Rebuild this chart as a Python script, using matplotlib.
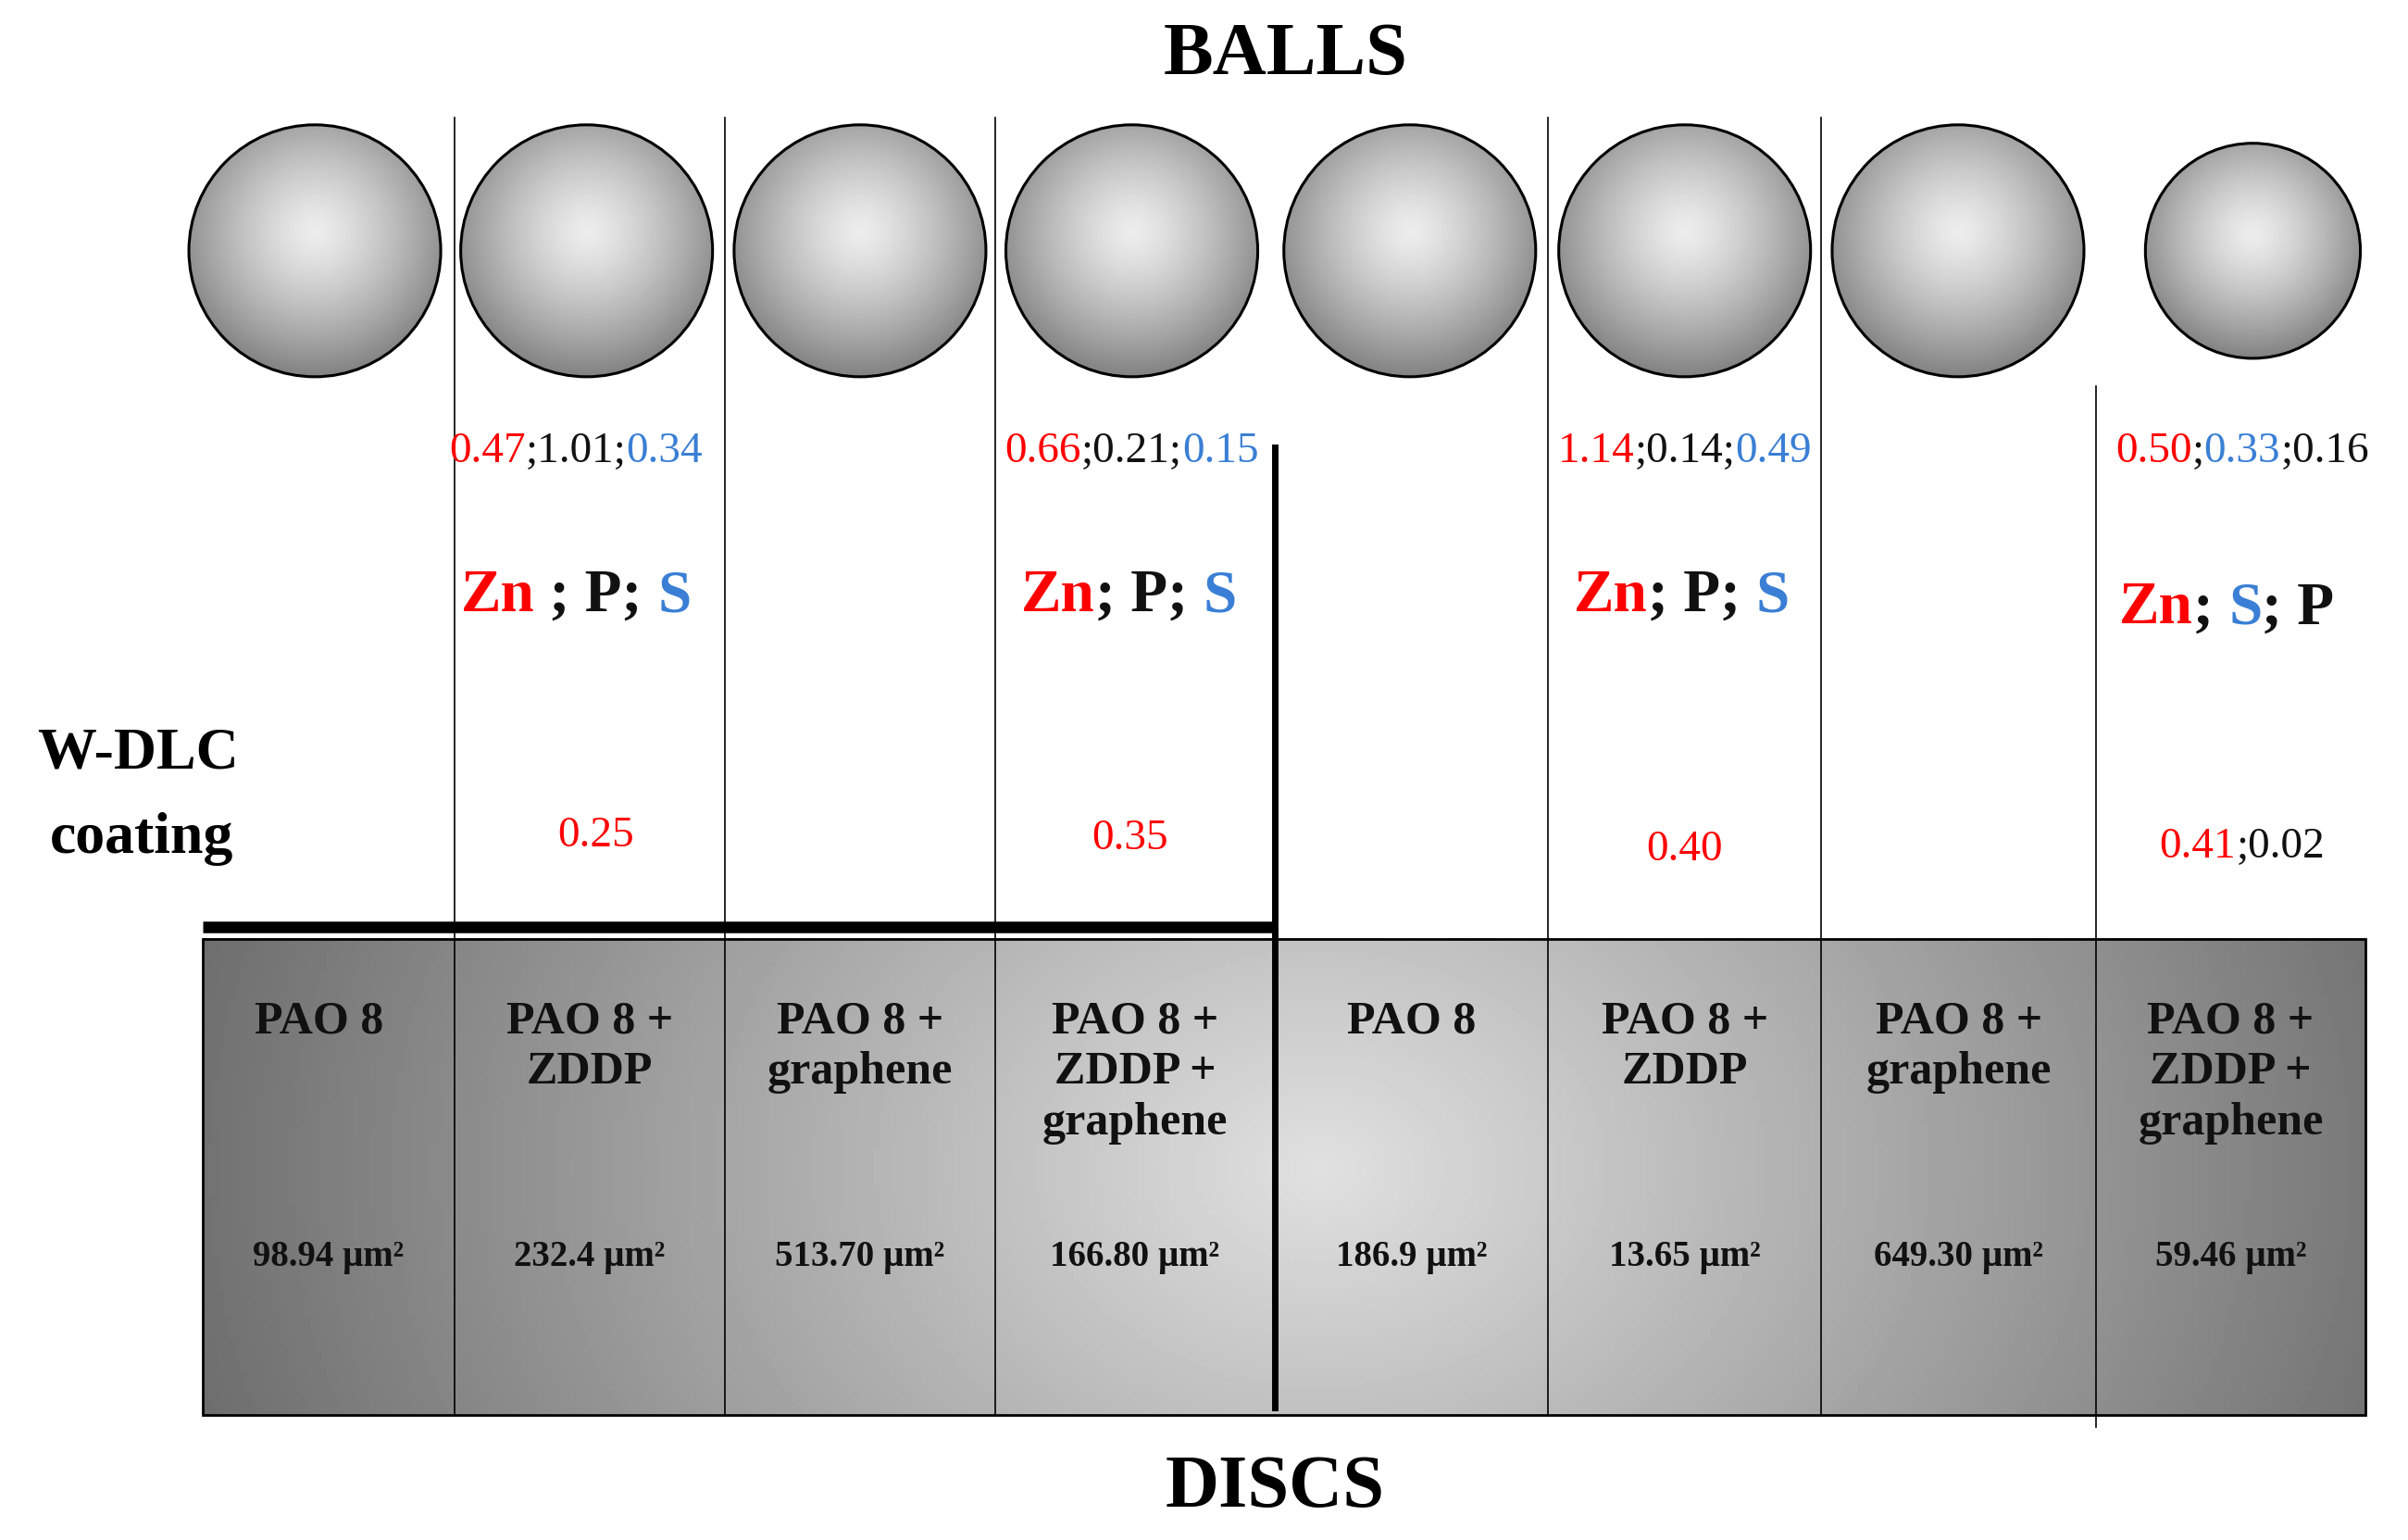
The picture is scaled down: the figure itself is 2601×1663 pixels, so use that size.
import numpy as np
import matplotlib
matplotlib.use("Agg")
import matplotlib.pyplot as plt
from matplotlib.patches import Circle, Rectangle

plt.rcParams['font.family'] = ['Liberation Serif', 'DejaVu Serif']

RED, BLK, BLU = '#ff0000', '#111111', '#3a7fd5'
lubricants = ["PAO 8", "PAO 8 +\nZDDP", "PAO 8 +\ngraphene", "PAO 8 +\nZDDP +\ngraphene"] * 2
wear_areas = ["98.94 µm²", "232.4 µm²", "513.70 µm²", "166.80 µm²",
              "186.9 µm²", "13.65 µm²", "649.30 µm²", "59.46 µm²"]
ball_values = {1: [("0.47", RED), (";1.01;", BLK), ("0.34", BLU)],
               3: [("0.66", RED), (";0.21;", BLK), ("0.15", BLU)],
               5: [("1.14", RED), (";0.14;", BLK), ("0.49", BLU)],
               7: [("0.50", RED), (";", BLK), ("0.33", BLU), (";0.16", BLK)]}
elements = {1: [("Zn", RED), (" ; P; ", BLK), ("S", BLU)],
            3: [("Zn", RED), ("; P; ", BLK), ("S", BLU)],
            5: [("Zn", RED), ("; P; ", BLK), ("S", BLU)],
            7: [("Zn", RED), ("; ", BLK), ("S", BLU), ("; P", BLK)]}
coating_values = {1: [("0.25", RED)], 3: [("0.35", RED)],
                  5: [("0.40", RED)], 7: [("0.41", RED), (";0.02", BLK)]}

bounds = [132, 296, 472, 648, 830, 1008, 1186, 1365, 1540]
centers = [(bounds[i] + bounds[i+1]) / 2 for i in range(8)]
ball_x = [205, 382, 560, 737, 918, 1097, 1275, 1467]
ball_r = [82, 82, 82, 82, 82, 82, 82, 70]

fig = plt.figure(figsize=(26.01, 16.63), dpi=100)
ax = fig.add_axes([0, 0, 1, 1])
ax.set_xlim(0, 1568); ax.set_ylim(1000, 0); ax.axis('off')

X, Y = np.meshgrid(np.linspace(132, 1540, 400), np.linspace(610, 920, 100))
d = np.sqrt((X - 860)**2 + ((Y - 760) * 1.3)**2)
val = 0.88 - 0.45 * d / d.max()
ax.imshow(val, cmap='gray', vmin=0, vmax=1, extent=[132, 1540, 920, 610], aspect='auto', zorder=1)
ax.add_patch(Rectangle((132, 610), 1408, 310, fill=False, lw=2, ec='black', zorder=3))

bx, by = np.meshgrid(np.linspace(-1, 1, 200), np.linspace(-1, 1, 200))
bd = np.sqrt(bx**2 + (by + 0.15)**2)
bval = 0.93 - 0.42 * np.clip(bd / 1.15, 0, 1)**1.3
for x, r in zip(ball_x, ball_r):
    cy = 162
    im = ax.imshow(bval, cmap='gray', vmin=0, vmax=1, extent=[x-r, x+r, cy+r, cy-r], zorder=2)
    ax.add_patch(Circle((x, cy), r, fill=False, lw=2.2, ec='black', zorder=3))
    im.set_clip_path(Circle((x, cy), r, transform=ax.transData))

for xb in [296, 472, 648, 1008, 1186]:
    ax.plot([xb, xb], [75, 920], color='black', lw=1.2, zorder=4)
ax.plot([1365, 1365], [250, 928], color='black', lw=1.2, zorder=4)
ax.plot([830, 830], [290, 915], color='black', lw=5, zorder=4)
ax.plot([132, 830], [602, 602], color='black', lw=9, solid_capstyle='butt', zorder=4)
ax.set_xlim(0, 1568); ax.set_ylim(1000, 0)

ax.text(837, 35, "BALLS", ha='center', va='center', fontsize=58, weight='bold')
ax.text(830, 968, "DISCS", ha='center', va='center', fontsize=58, weight='bold')
ax.text(90, 490, "W-DLC", ha='center', va='center', fontsize=46, weight='bold')
ax.text(92, 545, "coating", ha='center', va='center', fontsize=46, weight='bold')

for i in range(8):
    ax.text(centers[i] - 6 if i == 0 else centers[i], 650, lubricants[i], ha='center', va='top',
            fontsize=36, weight='bold', color='#111111', linespacing=1.25, zorder=5)
    ax.text(centers[i], 817, wear_areas[i], ha='center', va='center', fontsize=28,
            weight='bold', color='#111111', zorder=5)

fig.canvas.draw()
rend = fig.canvas.get_renderer()

def colored(cx, cy, parts, size, weight='normal'):
    ts = [ax.text(0, cy, s, color=c, fontsize=size, weight=weight, ha='left', va='center', zorder=5)
          for s, c in parts]
    inv = ax.transData.inverted()
    widths = []
    for t in ts:
        bb = t.get_window_extent(rend)
        widths.append(inv.transform((bb.x1, 0))[0] - inv.transform((bb.x0, 0))[0])
    x = cx - sum(widths) / 2
    for t, w in zip(ts, widths):
        t.set_x(x); x += w

for i, p in ball_values.items():
    colored({1: 375, 3: 737, 5: 1097, 7: 1460}[i], 293, p, 34)
for i, p in elements.items():
    colored({1: 375, 3: 735, 5: 1095, 7: 1450}[i], 395 if i == 7 else 387, p, 47, 'bold')
for i, p in coating_values.items():
    colored({1: 388, 3: 736, 5: 1097, 7: 1460}[i], {1: 543, 3: 545, 5: 552, 7: 550}[i], p, 34)

fig.savefig("out.png", dpi=100)
